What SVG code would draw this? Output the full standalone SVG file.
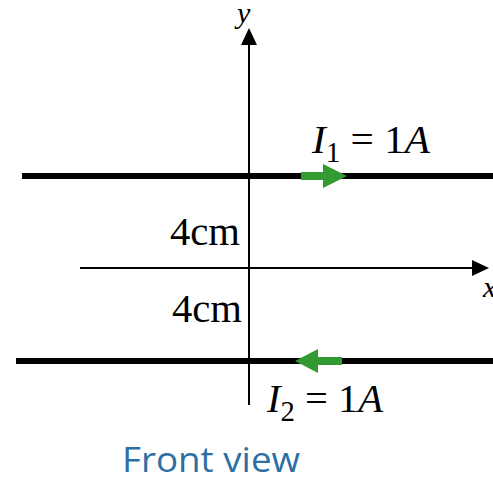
<svg xmlns="http://www.w3.org/2000/svg" width="493" height="477" viewBox="0 0 493 477">
<defs>
<style>
.wire{stroke:#000;stroke-width:6}
.axis{stroke:#000;stroke-width:2}
.m{font-family:"Liberation Serif","Times New Roman",serif;fill:#000}
.it{font-style:italic}
.cur{fill:#339933}
</style>
</defs>
<rect width="493" height="477" fill="#fff"/>
<g id="connectors">
<line class="axis" x1="249" y1="405" x2="249" y2="44"/>
<polygon points="249,28 241,45 257,45" fill="#000"/>
<line class="axis" x1="80" y1="268" x2="474" y2="268"/>
<polygon points="489,268 472,260 472,276" fill="#000"/>
</g>
<g id="wire1">
<line class="wire" x1="22" y1="176" x2="493" y2="176"/>
<polygon class="cur" points="301,172 323,172 323,164 347,176 323,188 323,180 301,180"/>
<text class="m" x="312" y="153" font-size="41" textLength="118" lengthAdjust="spacingAndGlyphs"><tspan class="it">I</tspan><tspan font-size="29" dy="9">1</tspan><tspan dy="-9"> = 1</tspan><tspan class="it">A</tspan></text>
</g>
<g id="wire2">
<line class="wire" x1="16" y1="361" x2="493" y2="361"/>
<polygon class="cur" points="342,357 318,357 318,349 295,361 318,373 318,365 342,365"/>
<text class="m" x="267" y="412" font-size="41" textLength="116" lengthAdjust="spacingAndGlyphs"><tspan class="it">I</tspan><tspan font-size="29" dy="9">2</tspan><tspan dy="-9"> = 1</tspan><tspan class="it">A</tspan></text>
</g>
<g id="labels">
<text class="m it" x="237" y="23" font-size="30">y</text>
<text class="m it" x="483" y="297" font-size="30">x</text>
<text class="m" x="170" y="245" font-size="40" textLength="70" lengthAdjust="spacingAndGlyphs">4cm</text>
<text class="m" x="172" y="322" font-size="40" textLength="70" lengthAdjust="spacingAndGlyphs">4cm</text>
<text x="122" y="472" font-family="'Open Sans','Noto Sans',sans-serif" font-size="34" fill="#2E6FA3" textLength="178" lengthAdjust="spacingAndGlyphs">Front view</text>
</g>
</svg>
